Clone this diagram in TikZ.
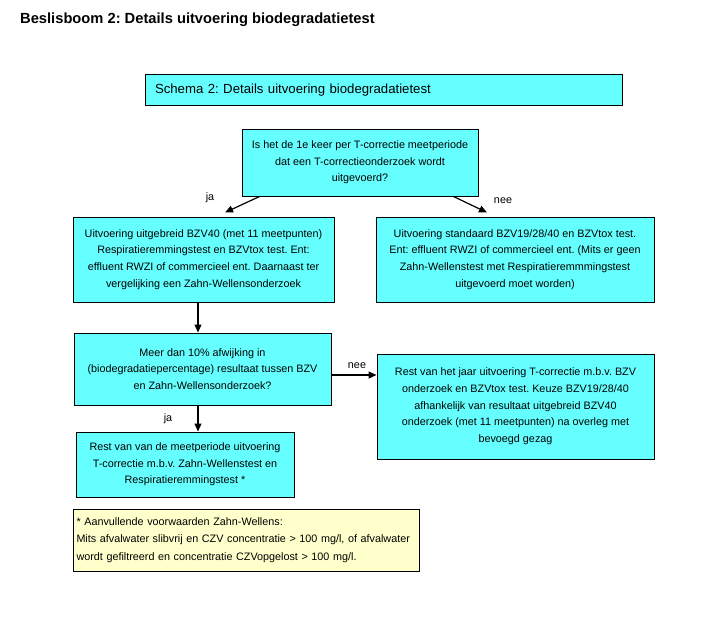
\documentclass[tikz,border=0pt]{standalone}
\usepackage{fontspec}
\setmainfont{Liberation Sans}
\usetikzlibrary{arrows.meta,calc}
\definecolor{cyanfill}{HTML}{66FFFF}
\definecolor{notefill}{HTML}{FFFFCC}
\frenchspacing
\begin{document}
\begin{tikzpicture}[x=1pt,y=-1pt,
  box/.style={draw=black, line width=1pt, fill=cyanfill, align=center, inner sep=0pt,
    font=\fontsize{10.8}{16.7}\selectfont},
  notebox/.style={draw=black, line width=1pt, fill=notefill, align=left, inner xsep=3.5pt, inner ysep=0pt,
    font=\fontsize{10.8}{17.5}\selectfont},
  arr/.style={line width=1.2pt, -{Triangle[length=8pt,width=7pt]}},
  lbl/.style={font=\fontsize{10.8}{13}\selectfont, inner sep=0pt}
]
\useasboundingbox (0,0) rectangle (704,642);
\fill[white] (0,0) rectangle (704,642);

\node[anchor=west, inner sep=0pt, font=\fontsize{14.7}{17}\selectfont\bfseries] (title) at (20,20)
  {Beslisboom 2: Details uitvoering biodegradatietest};

\node[box, align=left, text width=457pt, inner xsep=10pt, minimum height=31pt,
  font=\fontsize{13.2}{16}\selectfont] (schema) at (383.5,90)
  {Schema 2: Details uitvoering biodegradatietest};

\node[box, minimum width=236pt, minimum height=67pt] (q) at (360,162.5)
  {Is het de 1e keer per T-correctie meetperiode\\dat een T-correctieonderzoek wordt\\uitgevoerd?};

\node[box, minimum width=261pt, minimum height=85pt] (l1) at (203.5,259.5)
  {Uitvoering uitgebreid BZV40 (met 11 meetpunten)\\Respiratieremmingstest en BZVtox test. Ent:\\effluent RWZI of commercieel ent. Daarnaast ter\\vergelijking een Zahn-Wellensonderzoek};

\node[box, minimum width=278pt, minimum height=85pt] (r1) at (515,259.5)
  {Uitvoering standaard BZV19/28/40 en BZVtox test.\\Ent: effluent RWZI of commercieel ent. (Mits er geen\\Zahn-Wellenstest met Respiratieremmmingstest\\uitgevoerd moet worden)};

\node[box, minimum width=257pt, minimum height=72pt] (m) at (202.5,369)
  {Meer dan 10\% afwijking in\\(biodegradatiepercentage) resultaat tussen BZV\\en Zahn-Wellensonderzoek?};

\node[box, minimum width=218pt, minimum height=65pt] (rest) at (185,464.5)
  {Rest van van de meetperiode uitvoering\\T-correctie m.b.v. Zahn-Wellenstest en\\Respiratieremmingstest *};

\node[box, minimum width=277pt, minimum height=105pt] (r2) at (515.5,406.5)
  {Rest van het jaar uitvoering T-correctie m.b.v. BZV\\onderzoek en BZVtox test. Keuze BZV19/28/40\\afhankelijk van resultaat uitgebreid BZV40\\onderzoek (met 11 meetpunten) na overleg met\\bevoegd gezag};

\node[notebox, text width=339pt, minimum height=62pt] (note) at (246,540)
  {* Aanvullende voorwaarden Zahn-Wellens:\\Mits afvalwater slibvrij en CZV concentratie > 100 mg/l, of afvalwater\\wordt gefiltreerd en concentratie CZVopgelost > 100 mg/l.};

% connectors
\draw[arr] ($(q.south west)+(18,0)$) -- ($(l1.north)+(21.5,-4)$);
\draw[arr] ($(q.south east)+(-25,0)$) -- ($(r1.north)+(-28,-4)$);
\draw[arr] ($(l1.south)+(-5.5,0)$) -- ($(m.north)+(-4.5,0)$);
\draw[arr] ($(m.south)+(-4.5,0)$) -- ($(rest.north)+(13,0)$);
\draw[arr] ($(m.east)+(0,6)$) -- ($(r2.west)+(0,-31.5)$);

% labels
\node[lbl] (lja1) at (210,198) {ja};
\node[lbl] (lnee1) at (503,201) {nee};
\node[lbl] (lja2) at (168,419) {ja};
\node[lbl] (lnee2) at (357,366) {nee};
\end{tikzpicture}
\end{document}
